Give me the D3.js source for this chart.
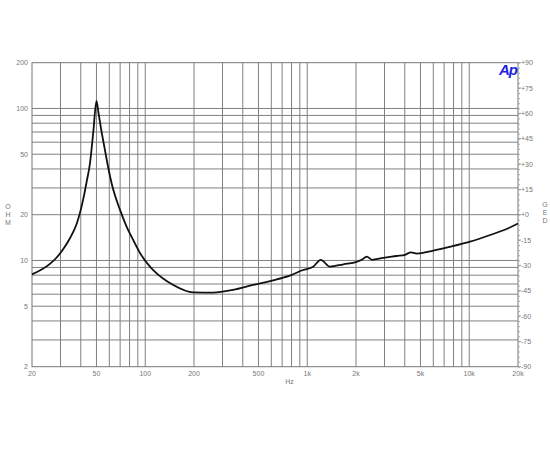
<!DOCTYPE html>
<html>
<head>
<meta charset="utf-8">
<script src="https://cdn.jsdelivr.net/npm/d3@7"></script>
<style>
  body { margin: 0; background: #fff; }
  text { font-family: "Liberation Sans", Arial, sans-serif; }
</style>
</head>
<body>
<div id="chart"></div>
<script>
// impedance curve
var freq = [20, 25.8, 28.5, 31.2, 34.3, 37.8, 41.5, 43.5, 45.6, 47.8, 50, 51.5, 53.1, 56.4, 59, 62, 69.9, 76, 84.4, 92.8, 107, 112, 149, 198, 262, 348, 463, 616, 780, 942, 1088, 1212, 1380, 1670, 2020, 2170, 2330, 2510, 2940, 3560, 4020, 4360, 4740, 6000, 7620, 10120, 13460, 17000, 20000];
var ohm = [8.1, 9.5, 10.5, 11.9, 14.0, 17.5, 25.5, 33, 43.6, 70, 112, 93, 76, 53.3, 41.2, 32.2, 21.5, 17.1, 13.6, 11.2, 9.1, 8.65, 6.9, 6.17, 6.15, 6.4, 6.9, 7.4, 7.95, 8.65, 9.1, 10.1, 9.1, 9.44, 9.8, 10.1, 10.6, 10.1, 10.4, 10.7, 10.9, 11.3, 11.1, 11.6, 12.3, 13.3, 14.7, 16.1, 17.5];

var xTickVals = [20, 50, 100, 200, 500, 1000, 2000, 5000, 10000, 20000];
var xTickLabels = ["20", "50", "100", "200", "500", "1k", "2k", "5k", "10k", "20k"];
var yTickVals = [2, 5, 10, 20, 50, 100, 200];
var dbTicks = [90, 75, 60, 45, 30, 15, 0, -15, -30, -45, -60, -75, -90];

var margin = { top: 62.7, right: 32, bottom: 83.3, left: 32 };
var W = 550, H = 450;
var width = W - margin.left - margin.right;
var height = H - margin.top - margin.bottom;

var svg = d3.select("#chart").append("svg")
  .attr("width", W)
  .attr("height", H)
  .append("g")
  .attr("transform", "translate(" + margin.left + "," + margin.top + ")");

var x = d3.scaleLog().domain([20, 20000]).range([0, width]);
var y = d3.scaleLog().domain([2, 200]).range([height, 0]);
var yr = d3.scaleLinear().domain([-90, 90]).range([height, 0]);

// grid lines
var xGrid = [];
[10, 100, 1000, 10000].forEach(function (d) {
  for (var k = 1; k <= 9; k++) {
    var v = d * k;
    if (v > 20 && v < 20000) xGrid.push(v);
  }
});
var yGrid = [];
[1, 10, 100].forEach(function (d) {
  for (var k = 1; k <= 9; k++) {
    var v = d * k;
    if (v > 2 && v < 200) yGrid.push(v);
  }
});

svg.selectAll(".vgrid").data(xGrid).enter().append("line")
  .attr("x1", function (d) { return x(d); })
  .attr("x2", function (d) { return x(d); })
  .attr("y1", 0).attr("y2", height)
  .attr("stroke", "#808080").attr("stroke-width", 1);

svg.selectAll(".hgrid").data(yGrid).enter().append("line")
  .attr("y1", function (d) { return y(d); })
  .attr("y2", function (d) { return y(d); })
  .attr("x1", 0).attr("x2", width)
  .attr("stroke", "#808080").attr("stroke-width", 1);

svg.append("rect")
  .attr("width", width).attr("height", height)
  .attr("fill", "none").attr("stroke", "#777").attr("stroke-width", 1);

// left axis labels
svg.selectAll(".ylab").data(yTickVals).enter().append("text")
  .attr("x", -4)
  .attr("y", function (d) { return y(d) + 2.5; })
  .attr("text-anchor", "end")
  .attr("font-size", 7)
  .attr("fill", "#777")
  .text(function (d) { return d; });

// bottom labels
svg.selectAll(".xlab").data(xTickVals).enter().append("text")
  .attr("x", function (d) { return x(d); })
  .attr("y", height + 9)
  .attr("text-anchor", "middle")
  .attr("font-size", 7)
  .attr("fill", "#777")
  .text(function (d, i) { return xTickLabels[i]; });

svg.append("text")
  .attr("x", x(800) - 2).attr("y", height + 17)
  .attr("text-anchor", "middle")
  .attr("font-size", 7).attr("fill", "#777")
  .text("Hz");

// right axis (dB) with minor ticks
svg.append("g")
  .attr("transform", "translate(" + width + ",0)")
  .call(d3.axisRight(yr).tickValues(d3.range(-90, 91, 3)).tickSize(2).tickFormat(""))
  .call(function (g) {
    g.select(".domain").remove();
    g.selectAll("line").attr("stroke", "#aaa");
  });

svg.selectAll(".rlab").data(dbTicks).enter().append("text")
  .attr("x", width + 3)
  .attr("y", function (d) { return yr(d) + 2.5; })
  .attr("font-size", 7)
  .attr("fill", "#777")
  .text(function (d) { return (d >= 0 ? "+" : "") + d; });
svg.selectAll(".rtick").data(dbTicks).enter().append("line")
  .attr("x1", 0 + width).attr("x2", width + 3)
  .attr("y1", function (d) { return yr(d); })
  .attr("y2", function (d) { return yr(d); })
  .attr("stroke", "#999");

// axis titles
["O", "H", "M"].forEach(function (c, i) {
  svg.append("text")
    .attr("x", -24).attr("y", 146 + i * 8)
    .attr("text-anchor", "middle")
    .attr("font-size", 7).attr("fill", "#777")
    .text(c);
});
["G", "E", "D"].forEach(function (c, i) {
  svg.append("text")
    .attr("x", width + 27).attr("y", 144 + i * 8)
    .attr("text-anchor", "middle")
    .attr("font-size", 7).attr("fill", "#777")
    .text(c);
});

// Ap logo
svg.append("text")
  .attr("x", width - 1).attr("y", 12)
  .attr("text-anchor", "end")
  .attr("font-size", 15)
  .attr("font-weight", "bold")
  .attr("font-style", "italic")
  .attr("letter-spacing", -1)
  .attr("fill", "#1f1fe0")
  .text("Ap");

// impedance curve
var data = freq.map(function (f, i) { return { f: f, z: ohm[i] }; });
var line = d3.line()
  .x(function (d) { return x(d.f); })
  .y(function (d) { return y(d.z); })
  .curve(d3.curveMonotoneX);

svg.append("path")
  .datum(data)
  .attr("fill", "none")
  .attr("stroke", "#111")
  .attr("stroke-width", 1.8)
  .attr("d", line);
</script>
</body>
</html>
